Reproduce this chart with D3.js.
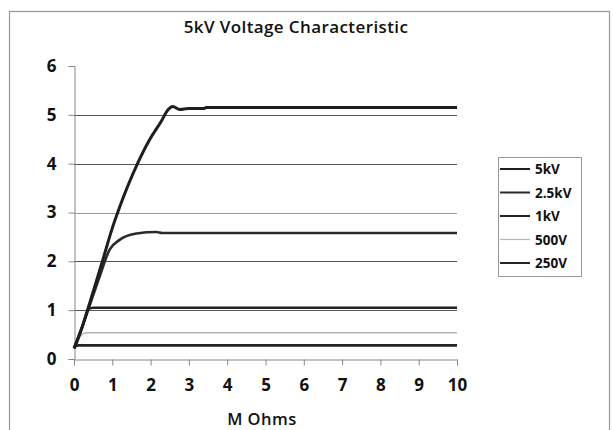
<!DOCTYPE html>
<html>
<head>
<meta charset="utf-8">
<script src="https://cdn.jsdelivr.net/npm/d3@7"></script>
<style>
  body { margin: 0; background: #fff; }
  svg { display: block; font-family: "Open Sans", sans-serif; }
</style>
</head>
<body>
<div id="chart"></div>
<script>
// series: resistance (M Ohms) vs voltage (kV)
const seriesNames = ["5kV", "2.5kV", "1kV", "500V", "250V"];
const x5kV = [0, 0.06, 0.41, 0.76, 1.0, 1.15, 1.67, 1.98, 2.28, 2.45, 2.58, 2.76, 2.98, 3.4, 3.45, 10];
const y5kV = [0.22, 0.32, 1.15, 2.05, 2.68, 3.02, 4.02, 4.5, 4.87, 5.1, 5.17, 5.11, 5.13, 5.13, 5.15, 5.15];
const x2_5kV = [0, 0.3, 0.67, 0.93, 1.19, 1.63, 2.15, 2.3, 10];
const y2_5kV = [0.22, 0.85, 1.69, 2.24, 2.44, 2.57, 2.6, 2.58, 2.58];
const x1kV = [0, 0.2, 0.41, 0.5, 10];
const y1kV = [0.22, 0.62, 1.04, 1.05, 1.05];
const x500V = [0, 0.1, 0.19, 0.32, 0.45, 10];
const y500V = [0.22, 0.4, 0.49, 0.54, 0.54, 0.54];
const x250V = [0, 0.06, 0.12, 10];
const y250V = [0.22, 0.27, 0.28, 0.28];
const xTicks = [0, 1, 2, 3, 4, 5, 6, 7, 8, 9, 10];
const yTicks = [0, 1, 2, 3, 4, 5, 6];
const gridValues = [1, 2, 3, 4, 5];

const seriesX = [x5kV, x2_5kV, x1kV, x500V, x250V];
const seriesY = [y5kV, y2_5kV, y1kV, y500V, y250V];
const colors = ["#1e1e1e", "#2a2a2a", "#222", "#b4b4b4", "#252525"];
const widths = [3, 2.6, 2.6, 1.5, 2.6];

const width = 613, height = 430;
const plot = { left: 74, right: 457, top: 66, bottom: 359 };

const svg = d3.select("#chart").append("svg")
  .attr("width", width)
  .attr("height", height);

// outer frame, bottom edge runs off the picture
svg.append("rect")
  .attr("x", 9.5).attr("y", 11.5)
  .attr("width", 600).attr("height", 440)
  .attr("fill", "none")
  .attr("stroke", "#b98a80")
  .attr("stroke-width", 1.2);

const x = d3.scaleLinear().domain([0, 10]).range([plot.left, plot.right]);
const y = d3.scaleLinear().domain([0, 6]).range([plot.bottom, plot.top]);

svg.append("text")
  .attr("x", 296).attr("y", 33)
  .attr("text-anchor", "middle")
  .attr("font-size", "17px")
  .attr("font-weight", 600)
  .attr("letter-spacing", "0.4px")
  .attr("fill", "#111")
  .text("5kV Voltage Characteristic");

// gridlines
svg.append("g")
  .selectAll("line")
  .data(gridValues)
  .enter().append("line")
  .attr("x1", plot.left).attr("x2", plot.right)
  .attr("y1", d => Math.round(y(d)) + 0.5)
  .attr("y2", d => Math.round(y(d)) + 0.5)
  .attr("stroke", d => d === 3 ? "#999" : "#555")
  .attr("stroke-width", 1);

const xAxis = svg.append("g")
  .attr("transform", `translate(0,${plot.bottom + 0.5})`)
  .call(d3.axisBottom(x).tickValues(xTicks).tickSize(6).tickPadding(13).tickFormat(d3.format("d")));

const yAxis = svg.append("g")
  .attr("transform", `translate(${plot.left + 0.5},0)`)
  .call(d3.axisLeft(y).tickValues(yTicks).tickSize(6).tickPadding(12).tickFormat(d3.format("d")));

[xAxis, yAxis].forEach(g => {
  g.select(".domain").attr("stroke", "#888");
  g.selectAll(".tick line").attr("stroke", "#888");
  g.selectAll(".tick text")
    .attr("font-family", "'Open Sans', sans-serif")
    .attr("font-size", "17px")
    .attr("font-weight", "bold")
    .attr("fill", "#111");
});

svg.append("text")
  .attr("x", 262).attr("y", 425)
  .attr("text-anchor", "middle")
  .attr("font-size", "16.5px")
  .attr("font-weight", 600)
  .attr("letter-spacing", "0.5px")
  .attr("fill", "#111")
  .text("M Ohms");

const line = d3.line()
  .x(d => x(d[0]))
  .y(d => y(d[1]))
  .curve(d3.curveMonotoneX);

// lower series first, 5kV on top
const order = [3, 4, 2, 1, 0];
order.forEach(i => {
  svg.append("path")
    .datum(d3.zip(seriesX[i], seriesY[i]))
    .attr("d", line)
    .attr("fill", "none")
    .attr("stroke", colors[i])
    .attr("stroke-width", widths[i])
    .attr("stroke-linejoin", "round");
});

// legend
const legend = svg.append("g");
legend.append("rect")
  .attr("x", 498.5).attr("y", 157.5)
  .attr("width", 83).attr("height", 119)
  .attr("fill", "#fff")
  .attr("stroke", "#999");

const items = legend.selectAll(".legend-item")
  .data(seriesNames)
  .enter().append("g")
  .attr("class", "legend-item")
  .attr("transform", (d, i) => `translate(0,${169 + i * 23.5})`);

items.append("line")
  .attr("x1", 500).attr("x2", 530)
  .attr("stroke", (d, i) => colors[i])
  .attr("stroke-width", (d, i) => i === 3 ? 1.2 : 2);

items.append("text")
  .attr("x", 535).attr("y", 5)
  .attr("font-size", "13.5px")
  .attr("font-weight", "bold")
  .attr("fill", "#111")
  .text(d => d);
</script>
</body>
</html>
